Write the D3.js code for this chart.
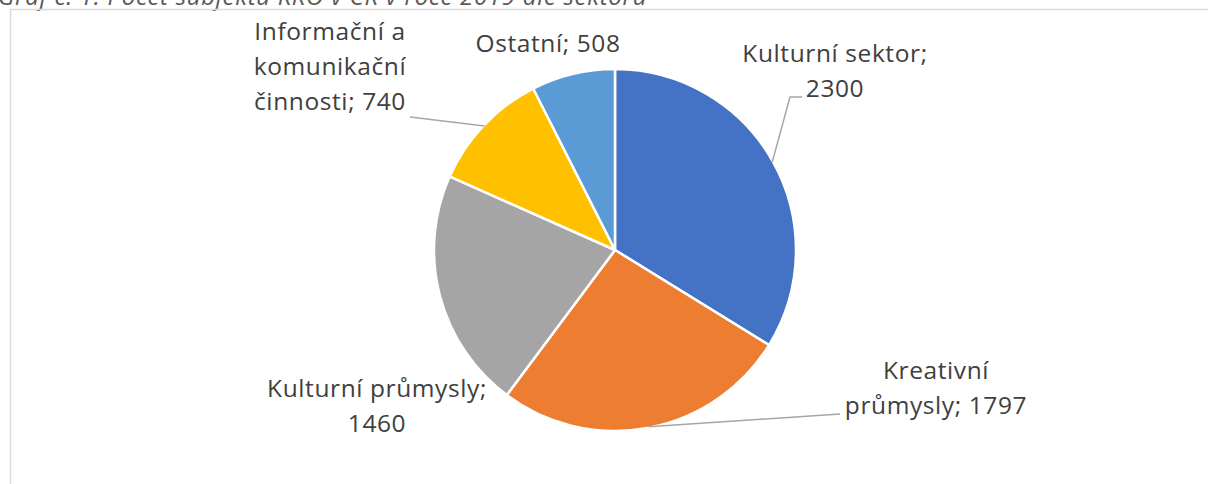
<!DOCTYPE html>
<html><head><meta charset="utf-8">
<script src="https://cdn.jsdelivr.net/npm/d3@7"></script>
<style>html,body{margin:0;padding:0;background:#fff;overflow:hidden}</style>
</head><body>
<svg id="c" width="1208" height="484"></svg>
<script>
const categories = ["Kulturní sektor", "Kreativní průmysly", "Kulturní průmysly", "Informační a komunikační činnosti", "Ostatní"];
const values = [2300, 1797, 1460, 740, 508];
const colors = ["#4472C4", "#ED7D31", "#A5A5A5", "#FFC000", "#5B9BD5"];
const labelLines = [
  ["Kulturní sektor;", "2300"],
  ["Kreativní", "průmysly; 1797"],
  ["Kulturní průmysly;", "1460"],
  ["Informační a", "komunikační", "činnosti; 740"],
  ["Ostatní; 508"]
];
const title = "Graf č. 1: Počet subjektů KKO v ČR v roce 2019 dle sektoru";

// layout (relative to pie centre)
const cx = 615, cy = 250, R = 181;
const labelPos = [[220, -188], [321, 129], [-238, 147], [-285, -210], [-67, -198]];
const leaderEnds = [
  [[175, -153], [187, -153]],
  [[225, 164]],
  null,
  [[-205, -133]],
  null
];
const lineH = 35;
const FONT = "'Open Sans', 'Noto Sans', sans-serif";

const svg = d3.select("#c");
svg.append("text").attr("x", -2).attr("y", 5)
  .attr("font-family", FONT).attr("font-style", "italic")
  .attr("font-size", 24).attr("letter-spacing", 0.7).attr("fill", "#595959").text(title);

svg.append("rect").attr("x", 10.5).attr("y", 9.5).attr("width", 1220).attr("height", 500)
  .attr("fill", "none").attr("stroke", "#D9D9D9").attr("stroke-width", 1.5);

const pie = d3.pie().sort(null).value(d => d)(values);
const arc = d3.arc().innerRadius(0).outerRadius(R);
const g = svg.append("g").attr("transform", `translate(${cx},${cy})`);
g.selectAll("path.s").data(pie).join("path").attr("class", "s")
  .attr("d", arc).attr("fill", (d, i) => colors[i])
  .attr("stroke", "#fff").attr("stroke-width", 2.5).attr("stroke-linejoin", "round");

// leader lines from slice mid-angle on the rim
pie.forEach((d, i) => {
  const ends = leaderEnds[i];
  if (!ends) return;
  const a = (d.startAngle + d.endAngle) / 2;
  const p = [Math.sin(a) * (R - 1), -Math.cos(a) * (R - 1)];
  g.append("path").attr("d", d3.line()([p, ...ends])).attr("fill", "none")
    .attr("stroke", "#A6A6A6").attr("stroke-width", 1.5);
});

// labels
pie.forEach((d, i) => {
  const [lx, ly] = labelPos[i];
  const t = g.append("text").attr("font-family", FONT)
    .attr("font-size", 24.5).attr("letter-spacing", 0.6)
    .attr("fill", "#404040").attr("text-anchor", "middle");
  labelLines[i].forEach((s, k) => {
    t.append("tspan").attr("x", lx).attr("y", ly + k * lineH).text(s);
  });
});
</script>
</body></html>
